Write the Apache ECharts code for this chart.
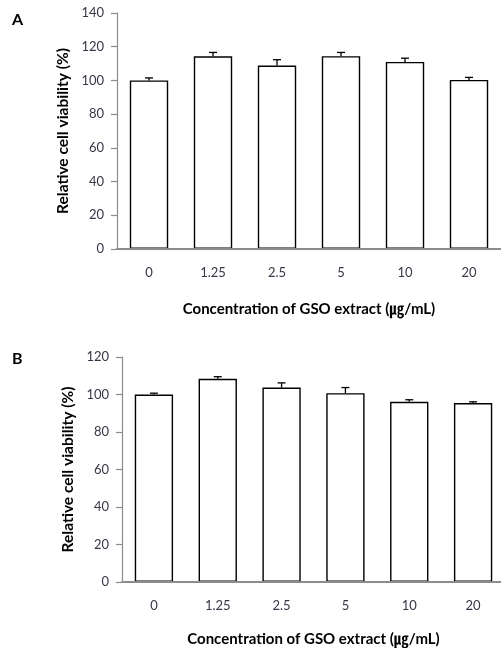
<!DOCTYPE html>
<html>
<head>
<meta charset="utf-8">
<script src="https://cdn.jsdelivr.net/npm/echarts@6/dist/echarts.min.js"></script>
<style>
html,body{margin:0;padding:0;background:#fff;}
#c{width:501px;height:648px;}
</style>
</head>
<body>
<div id="c"></div>
<script>
var categories = ['0', '1.25', '2.5', '5', '10', '20'];
var valuesA = [100, 114.3, 108.8, 114.4, 111, 100.3];
var errorsA = [1.5, 2.3, 3.5, 2.2, 2.2, 1.5];
var valuesB = [100, 108.4, 103.7, 100.7, 96.1, 95.4];
var errorsB = [0.7, 1.1, 2.5, 3.0, 1.1, 0.7];
var yTicksA = {min: 0, max: 140, interval: 20};
var yTicksB = {min: 0, max: 120, interval: 20};
var xTitle = 'Concentration of GSO extract (\u338D/mL)';
var yTitle = 'Relative cell viability (%)';

var font = 'Lato, "Open Sans", "Noto Sans CJK KR", sans-serif';
var labelColor = '#363646';
var axisColor = '#8c8c8c';

function errSeries(vals, errs, idx) {
  return {
    type: 'custom',
    xAxisIndex: idx, yAxisIndex: idx,
    z: 5,
    data: vals.map(function (v, i) { return [i, v, v + errs[i]]; }),
    renderItem: function (params, api) {
      var p0 = api.coord([api.value(0), api.value(1)]);
      var p1 = api.coord([api.value(0), api.value(2)]);
      var hw = 4;
      var st = {stroke: '#000', lineWidth: 1.3};
      return {
        type: 'group',
        children: [
          {type: 'line', shape: {x1: p0[0], y1: p0[1], x2: p1[0], y2: p1[1]}, style: st},
          {type: 'line', shape: {x1: p1[0] - hw, y1: p1[1], x2: p1[0] + hw, y2: p1[1]}, style: st}
        ]
      };
    }
  };
}

function xAx(idx, gap) {
  return {
    type: 'category', gridIndex: idx, data: categories, z: 6,
    axisLine: {lineStyle: {color: axisColor, width: 2}},
    axisTick: {alignWithLabel: false, length: 5, lineStyle: {color: axisColor, width: 1.2}},
    axisLabel: {color: labelColor, fontFamily: font, fontSize: 13, margin: 17},
    name: xTitle, nameLocation: 'middle', nameGap: gap,
    nameTextStyle: {color: '#000', fontFamily: font, fontSize: 15, fontWeight: 'bold'}
  };
}
function yAx(idx, t, gap) {
  return {
    type: 'value', gridIndex: idx, min: t.min, max: t.max, interval: t.interval,
    splitLine: {show: false},
    axisLine: {show: true, lineStyle: {color: axisColor, width: 1.2}},
    axisTick: {show: true, length: 6, lineStyle: {color: axisColor, width: 1.2}},
    axisLabel: {color: labelColor, fontFamily: font, fontSize: 13, margin: 13},
    name: yTitle, nameLocation: 'middle', nameGap: gap, nameRotate: 90,
    nameTextStyle: {color: '#000', fontFamily: font, fontSize: 15.5, fontWeight: 'bold'}
  };
}
function barSeries(vals, idx) {
  return {
    type: 'bar', xAxisIndex: idx, yAxisIndex: idx, data: vals, barWidth: '60%',
    itemStyle: {color: '#fff', borderColor: '#000', borderWidth: 1.4},
    animation: false
  };
}

var chart = echarts.init(document.getElementById('c'));
chart.setOption({
  animation: false,
  backgroundColor: '#fff',
  graphic: [
    {type: 'text', left: 12, top: 12, style: {text: 'A', font: 'bold 16px ' + font, fill: '#000'}},
    {type: 'text', left: 12, top: 351, style: {text: 'B', font: 'bold 16px ' + font, fill: '#000'}}
  ],
  grid: [
    {left: 117, top: 13, width: 384, height: 236, outerBoundsMode: 'none', containLabel: false},
    {left: 122, top: 357, width: 383, height: 225, outerBoundsMode: 'none', containLabel: false}
  ],
  xAxis: [xAx(0, 53), xAx(1, 50)],
  yAxis: [yAx(0, yTicksA, 44), yAx(1, yTicksB, 46)],
  series: [
    barSeries(valuesA, 0), errSeries(valuesA, errorsA, 0),
    barSeries(valuesB, 1), errSeries(valuesB, errorsB, 1)
  ]
});
</script>
</body>
</html>
